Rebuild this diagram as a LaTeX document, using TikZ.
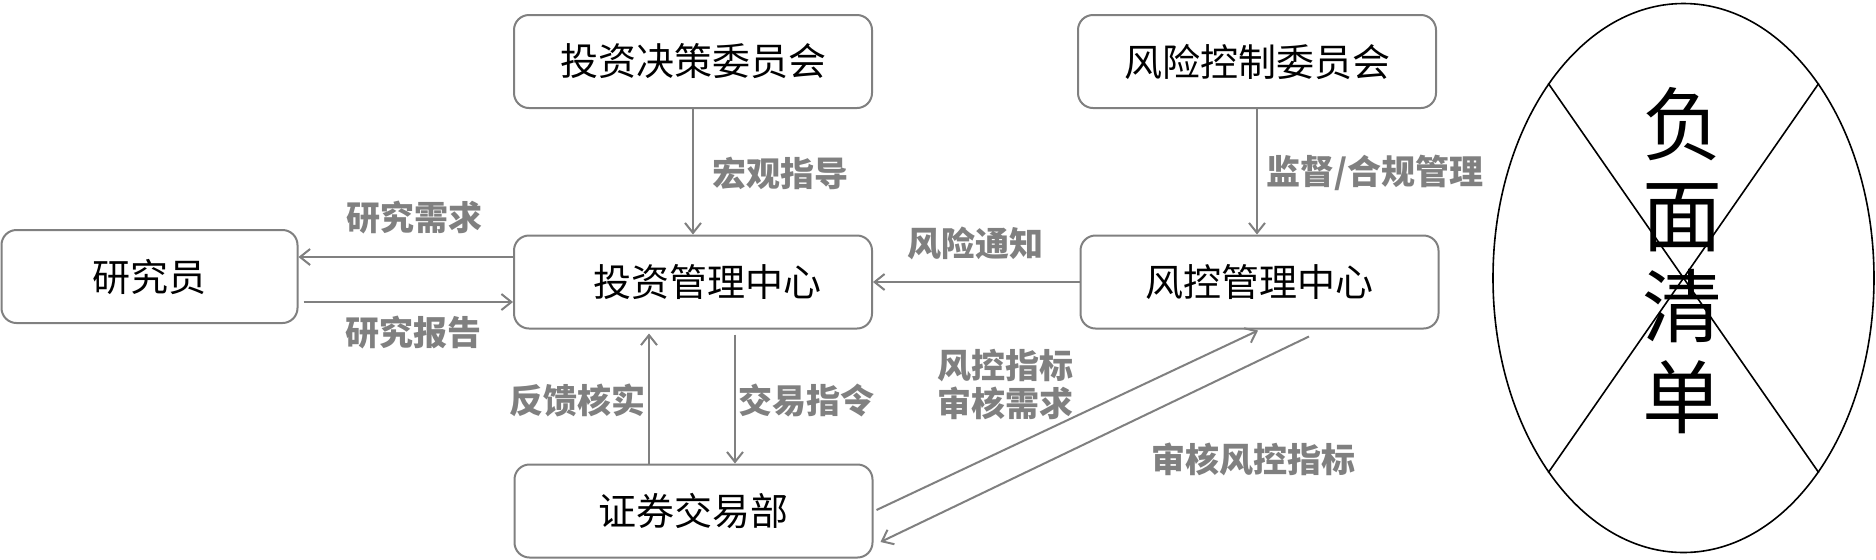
\documentclass[tikz,border=0pt]{standalone}
\usepackage{fontspec}
\setmainfont{Noto Sans CJK SC}
\usetikzlibrary{arrows.meta,calc,shapes.geometric}
\definecolor{linegray}{RGB}{128,128,128}
\definecolor{labgray}{RGB}{128,128,128}
\begin{document}
\begin{tikzpicture}[x=0.5pt,y=-0.5pt,
  box/.style={draw=linegray, line width=1pt, rounded corners=7.5pt, minimum width=179pt, minimum height=46.5pt, inner sep=0pt, font=\fontsize{19pt}{22pt}\selectfont},
  conn/.style={draw=linegray, line width=1pt, -{Straight Barb[length=5pt,width=8pt]}},
  lab/.style={text=labgray, font=\bfseries\fontsize{17pt}{19pt}\selectfont, inner sep=0pt, align=center},
  xline/.style={draw=black, line width=0.8pt}
]
\useasboundingbox (0,0) rectangle (1876,559);
\fill[white] (0,0) rectangle (1876,559);

\node[box] (ic) at (693,61.5) {投资决策委员会};
\node[box] (rc) at (1257,61.5) {风险控制委员会};
\node[box, minimum width=148pt] (res) at (149.5,276.5) {研究员};
\node[box] (im) at (693,282) {\hspace*{14pt}投资管理中心};
\node[box] (rm) at (1259.5,282) {风控管理中心};
\node[box] (st) at (693.5,511) {证券交易部};

\node[ellipse, draw=black, line width=0.8pt, minimum width=190.5pt, minimum height=274.5pt, inner sep=0pt] (neg) at (1683.5,278) {};
\draw[xline] (neg.north west) -- (neg.south east);
\draw[xline] (neg.north east) -- (neg.south west);
\node[font=\fontsize{40pt}{45.5pt}\selectfont, align=center, inner sep=0pt] (negt) at (1682,261) {负\\面\\清\\单};

\draw[conn] (ic.south) -- (im.north);
\draw[conn] (rc.south) -- (rc.south |- rm.north);
\draw[conn] ($(im.west)+(0,-25)$) coordinate (a1) -- (a1 -| res.east);
\draw[conn] ($(res.east)+(5,25.5)$) coordinate (a2) -- (a2 -| im.west);
\draw[conn] (rm.west) -- (im.east);
\draw[conn] ($(st.north)+(-44.5,0)$) coordinate (a3) -- ($(a3 |- im.south)+(0,4)$);
\draw[conn] ($(im.south)+(42,5)$) coordinate (a4) -- (a4 |- st.north);
\draw[conn] ($(st.east)+(3,-1)$) -- ($(rm.south)+(-1.5,1)$);
\draw[conn] ($(rm.south)+(49.5,7)$) -- ($(st.east)+(7,31)$);

\node[lab] (l1) at (780,173) {宏观指导};
\node[lab] (l2) at (1375,173) {监督/合规管理};
\node[lab] (l3) at (414,218) {研究需求};
\node[lab] (l4) at (413,333) {研究报告};
\node[lab] (l5) at (975,243) {风险通知};
\node[lab] (l6) at (577,400) {反馈核实};
\node[lab] (l7) at (806,400) {交易指令};
\node[lab] (l8) at (1005,384) {风控指标\\审核需求};
\node[lab] (l9) at (1253,459) {审核风控指标};
\end{tikzpicture}
\end{document}
